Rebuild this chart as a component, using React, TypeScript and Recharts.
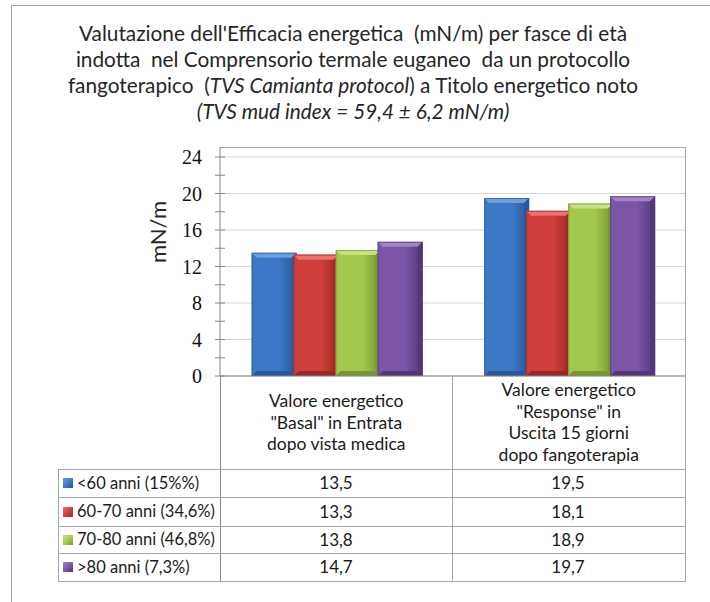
import React from "react";
import { BarChart, Bar, XAxis, YAxis, CartesianGrid } from "recharts";

const categories = [
  'Valore energetico\n"Basal" in Entrata\ndopo vista medica',
  'Valore energetico\n"Response" in\nUscita 15 giorni\ndopo fangoterapia',
];
const seriesNames = ["<60 anni (15%%)", "60-70 anni (34,6%)", "70-80 anni (46,8%)", ">80 anni (7,3%)"];
const under60 = [13.5, 19.5];
const from60to70 = [13.3, 18.1];
const from70to80 = [13.8, 18.9];
const over80 = [14.7, 19.7];
const yTicks = [0, 2, 4, 6, 8, 10, 12, 14, 16, 18, 20, 22, 24];
const yMajor = [0, 4, 8, 12, 16, 20, 24];

const seriesValues = [under60, from60to70, from70to80, over80];
const seriesKeys = ["s0", "s1", "s2", "s3"];

// base / light bevel / dark bevel
const COLORS = [
  { base: "#3c78c6", light: "#6b9fe0", dark: "#28599b" },
  { base: "#d03e3b", light: "#ea736f", dark: "#9c2927" },
  { base: "#a2c74b", light: "#c7e183", dark: "#779631" },
  { base: "#7b56a8", light: "#a184c7", dark: "#533879" },
];

const FONT = "Lato, 'Open Sans', sans-serif";
const GRID = "#a6a6a6";

const data = categories.map((name, i) => {
  const row: Record<string, string | number> = { name };
  seriesValues.forEach((vals, s) => (row[seriesKeys[s]] = vals[i]));
  return row;
});

const fmt = (v: number) => v.toFixed(1).replace(".", ",");

function BevelBar(props: any) {
  const { x, y, width: w, height: h, idx } = props;
  if (!h || h <= 0) return null;
  const c = COLORS[idx];
  const b = 5;
  return (
    <g>
      <rect x={x} y={y} width={w} height={h} fill={`url(#grad${idx})`} />
      <polygon points={`${x},${y} ${x + w},${y} ${x + w - b},${y + b} ${x + b},${y + b}`} fill={c.light} />
      <polygon points={`${x + w},${y} ${x + w - b},${y + b} ${x + w - b},${y + h - b} ${x + w},${y + h}`} fill={c.dark} />
      <polygon points={`${x},${y + h} ${x + b},${y + h - b} ${x + w - b},${y + h - b} ${x + w},${y + h}`} fill={c.dark} />
      <rect x={x + 0.5} y={y + 0.5} width={w - 1} height={h - 1} fill="none" stroke={c.dark} strokeOpacity={0.7} />
    </g>
  );
}

function YTick({ x, y, payload }: any) {
  const v = payload.value;
  return (
    <g>
      <line x1={x - 5} x2={x + 5} y1={y} y2={y} stroke="#868686" />
      {v % 4 === 0 && (
        <text x={x - 18} y={y} textAnchor="end" dominantBaseline="central" fontFamily="'Liberation Serif', serif" fontSize={20} fill="#111">
          {v}
        </text>
      )}
    </g>
  );
}

function XTick({ x, y, payload }: any) {
  const lines = String(payload.value).split("\n");
  const lh = 21.5;
  const cy = y + 46;
  const start = cy - ((lines.length - 1) * lh) / 2;
  return (
    <text x={x} textAnchor="middle" fontFamily={FONT} fontSize={17.5} fill="#1a1a1a">
      {lines.map((l, i) => (
        <tspan key={i} x={x} y={start + i * lh} dominantBaseline="central">
          {l}
        </tspan>
      ))}
    </text>
  );
}

const line = (left: number, top: number, width: number, height: number, color = GRID): React.CSSProperties => ({
  position: "absolute",
  left,
  top,
  width,
  height,
  background: color,
});

const rowTops = [469, 497, 526, 553, 581];
const colCenters = [336, 568];

export default function App() {
  return (
    <div style={{ position: "relative", width: 710, height: 602, background: "#fff", overflow: "hidden", fontFamily: FONT }}>
      <style>{"body{margin:0}"}</style>
      {/* outer frame */}
      <div style={{ position: "absolute", left: 11, top: 5, width: 720, height: 620, border: "1px solid #a0a0a0" }} />

      <div
        style={{
          position: "absolute",
          left: 0,
          top: 20,
          width: 706,
          textAlign: "center",
          fontSize: 20.8,
          lineHeight: "26px",
          color: "#262626",
          whiteSpace: "pre",
        }}
      >
        <div>Valutazione dell'Efficacia energetica  (mN/m) per fasce di età</div>
        <div>indotta  nel Comprensorio termale euganeo  da un protocollo</div>
        <div>
          fangoterapico  (<i>TVS Camianta protocol</i>) a Titolo energetico noto
        </div>
        <div>
          <i>(TVS mud index = 59,4 ± 6,2 mN/m)</i>
        </div>
      </div>

      {/* plot frame top + right, table lines */}
      <div style={line(220, 147, 466, 1)} />
      <div style={line(685, 147, 1, 435)} />
      <div style={line(220, 376, 1, 206, "#868686")} />
      <div style={line(452, 376, 1, 206)} />
      <div style={line(58, 469, 1, 113)} />
      {rowTops.map((t) => (
        <div key={t} style={line(58, t, 628, 1)} />
      ))}

      <div style={{ position: "absolute", left: 0, top: 0 }}>
        <BarChart
          width={710}
          height={602}
          data={data}
          margin={{ top: 147, right: 25, bottom: 134, left: 140 }}
          barCategoryGap="13.6%"
          barGap={-3}
        >
          <defs>
            {COLORS.map((c, i) => (
              <linearGradient key={i} id={`grad${i}`} x1="0" y1="0" x2="1" y2="0">
                <stop offset="0%" stopColor={c.base} />
                <stop offset="60%" stopColor={c.base} />
                <stop offset="100%" stopColor={c.dark} />
              </linearGradient>
            ))}
          </defs>
          <CartesianGrid vertical={false} horizontalValues={yMajor} stroke="#d4d4d4" />
          <XAxis
            dataKey="name"
            height={92}
            tickLine={false}
            tickSize={0}
            tickMargin={0}
            axisLine={{ stroke: "#868686" }}
            tick={<XTick />}
            interval={0}
          />
          <YAxis
            width={80}
            domain={[0, 24]}
            ticks={yTicks}
            interval={0}
            padding={{ top: 10 }}
            tickLine={false}
            tickSize={0}
            tickMargin={0}
            axisLine={{ stroke: "#868686" }}
            tick={<YTick />}
            label={{
              content: () => (
                <text
                  x={157}
                  y={232}
                  transform="rotate(-90 157 232)"
                  textAnchor="middle"
                  dominantBaseline="central"
                  fontFamily={FONT}
                  fontSize={22}
                  fill="#262626"
                >
                  mN/m
                </text>
              ),
            }}
          />
          {seriesKeys.map((k, i) => (
            <Bar
              key={k}
              dataKey={k}
              name={seriesNames[i]}
              isAnimationActive={false}
              shape={(p: any) => <BevelBar {...p} idx={i} />}
            />
          ))}
        </BarChart>
      </div>

      {/* data table legend + values */}
      {seriesNames.map((name, s) => {
        const top = rowTops[s];
        const h = rowTops[s + 1] - top;
        const c = COLORS[s];
        return (
          <React.Fragment key={name}>
            <div
              style={{
                position: "absolute",
                left: 63,
                top: top + h / 2 - 5,
                width: 10,
                height: 10,
                background: `linear-gradient(135deg, ${c.light}, ${c.base} 55%, ${c.dark})`,
              }}
            />
            <div
              style={{
                position: "absolute",
                left: 77,
                top,
                height: h,
                lineHeight: `${h}px`,
                fontSize: 16.5,
                color: "#1a1a1a",
                whiteSpace: "pre",
              }}
            >
              {name}
            </div>
            {seriesValues[s].map((v, ci) => (
              <div
                key={ci}
                style={{
                  position: "absolute",
                  left: colCenters[ci] - 60,
                  width: 120,
                  top,
                  height: h,
                  lineHeight: `${h}px`,
                  textAlign: "center",
                  fontSize: 17,
                  color: "#1a1a1a",
                }}
              >
                {fmt(v)}
              </div>
            ))}
          </React.Fragment>
        );
      })}
    </div>
  );
}
